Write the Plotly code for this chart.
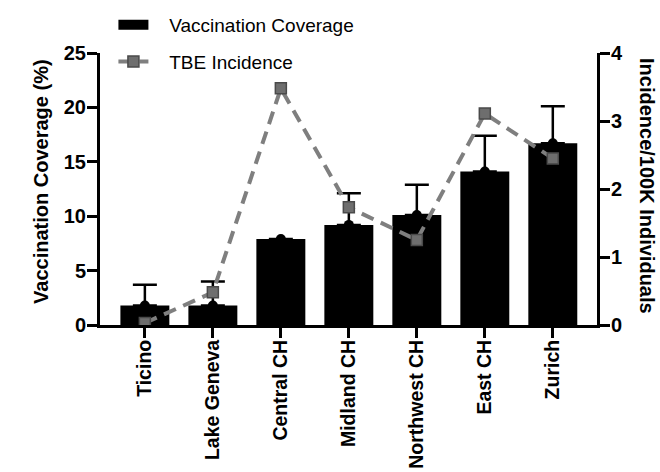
import plotly.graph_objects as go

regions = ["Ticino", "Lake Geneva", "Central CH", "Midland CH", "Northwest CH", "East CH", "Zurich"]
coverage = [1.8, 1.8, 7.9, 9.2, 10.1, 14.1, 16.7]
coverage_err = [1.9, 2.2, 0.0, 2.9, 2.8, 3.3, 3.4]
incidence = [0.03, 0.48, 3.48, 1.73, 1.25, 3.11, 2.45]

FONT = "Arial, 'Liberation Sans', sans-serif"
PAD = "\u00a0\u00a0\u00a0"

fig = go.Figure()

fig.add_trace(go.Bar(
    x=regions, y=coverage, name="Vaccination Coverage",
    marker=dict(color="black", line=dict(width=0)),
    width=0.72, showlegend=False,
))
# legend entry drawn as a wide black block (like the reference legend swatch)
fig.add_trace(go.Scatter(
    x=[None], y=[None], name=PAD + "Vaccination Coverage", mode="lines",
    line=dict(color="black", width=17), legendgroup="a",
))
fig.add_trace(go.Scatter(
    x=regions, y=coverage, mode="markers", showlegend=False,
    marker=dict(symbol="circle", size=10, color="black"),
    error_y=dict(type="data", array=coverage_err, symmetric=False,
                 arrayminus=[0] * len(regions), color="black", thickness=2.5, width=12),
))
fig.add_trace(go.Scatter(
    x=regions, y=incidence, name=PAD + "TBE Incidence", yaxis="y2",
    mode="lines+markers", legendgroup="b",
    line=dict(color="#7f7f7f", width=4, dash="13px,8px"),
    marker=dict(symbol="square", size=11, color="#6e6e6e", line=dict(color="#4a4a4a", width=1.5)),
))

fig.update_layout(
    width=660, height=472,
    margin=dict(l=100, r=63, t=53, b=147, autoexpand=False),
    plot_bgcolor="white", paper_bgcolor="white",
    font=dict(family=FONT, size=19, color="black"),
    legend=dict(x=0.027, y=1.173, xanchor="left", yanchor="top",
                font=dict(size=19, family=FONT), bgcolor="rgba(0,0,0,0)",
                tracegroupgap=9, itemwidth=30),
    xaxis=dict(
        range=[-0.66, 6.65], showline=True, linecolor="black", linewidth=3,
        ticks="outside", ticklen=10, tickwidth=3, tickcolor="black",
        tickangle=-90, tickfont=dict(size=19.5, family=FONT, weight="bold"),
        ticklabelstandoff=-6,
        showgrid=False, zeroline=False, automargin=False,
    ),
    yaxis=dict(
        range=[0, 25], tickvals=[0, 5, 10, 15, 20, 25],
        showline=True, linecolor="black", linewidth=3,
        ticks="outside", ticklen=10, tickwidth=3, tickcolor="black",
        tickfont=dict(size=20, family=FONT, weight="bold"),
        ticklabelstandoff=-3,
        showgrid=False, zeroline=False, automargin=False,
    ),
    yaxis2=dict(
        range=[0, 4], tickvals=[0, 1, 2, 3, 4], overlaying="y", side="right",
        showline=True, linecolor="black", linewidth=3,
        ticks="outside", ticklen=10, tickwidth=3, tickcolor="black",
        tickfont=dict(size=20, family=FONT, weight="bold"),
        ticklabelstandoff=-3,
        showgrid=False, zeroline=False, automargin=False,
    ),
    annotations=[
        dict(text="Vaccination Coverage (%)", textangle=-90,
             xref="paper", yref="paper", x=0.0, y=0.526, xshift=-59,
             xanchor="center", yanchor="middle", showarrow=False,
             font=dict(size=20, family=FONT, weight="bold")),
        dict(text="Incidence/100K Individuals", textangle=90,
             xref="paper", yref="paper", x=1.0, y=0.511, xshift=50,
             xanchor="center", yanchor="middle", showarrow=False,
             font=dict(size=20, family=FONT, weight="bold")),
    ],
)

fig.write_html("out.html")
